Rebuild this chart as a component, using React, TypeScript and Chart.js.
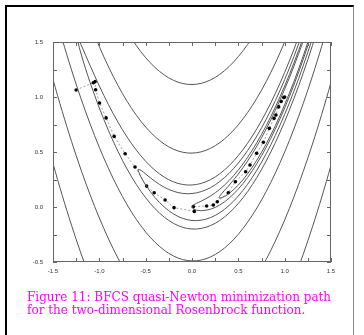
import React, { useEffect, useRef } from "react";
import { Chart, registerables } from "chart.js";
Chart.register(...registerables);

type P = [number, number];

// Contour lines of the Rosenbrock function (level in name)
const level350Left: P[] = [[-1.6,0.7073],[-1.5,0.396],[-1.4,0.1046],[-1.3,-0.1666],[-1.2,-0.4179],[-1.1,-0.649]];
const level350Right: P[] = [[1.1,-0.6608],[1.2,-0.4307],[1.3,-0.1806],[1.4,0.0896],[1.5,0.3798],[1.6,0.6901]];
const level125Upper: P[] = [[-0.7,1.595],[-0.6,1.4665],[-0.5,1.3579],[-0.4,1.2692],[-0.3,1.2005],[-0.2,1.1516],[-0.1,1.1226],[0,1.1136],[0.1,1.1244],[0.2,1.1552],[0.3,1.2058],[0.4,1.2764],[0.5,1.3669],[0.6,1.4773],[0.7,1.6076]];
const level125Left: P[] = [[-1.6,1.4726],[-1.5,1.1603],[-1.4,0.868],[-1.3,0.5959],[-1.2,0.3438],[-1.1,0.1119],[-1.0,-0.1],[-0.9,-0.2918],[-0.8,-0.4635],[-0.7,-0.615]];
const level125Right: P[] = [[0.7,-0.6276],[0.8,-0.4779],[0.9,-0.308],[1.0,-0.118],[1.1,0.092],[1.2,0.3221],[1.3,0.5724],[1.4,0.8427],[1.5,1.1331],[1.6,1.4436]];
const level25Upper: P[] = [[-1.1,1.6638],[-1.0,1.4583],[-0.9,1.2725],[-0.8,1.1065],[-0.7,0.9602],[-0.6,0.8337],[-0.5,0.727],[-0.4,0.64],[-0.3,0.5728],[-0.2,0.5254],[-0.1,0.4978],[0,0.4899],[0.1,0.5018],[0.2,0.5336],[0.3,0.5851],[0.4,0.6564],[0.5,0.7475],[0.6,0.8584],[0.7,0.9891],[0.8,1.1396],[0.9,1.3099],[1.0,1.5],[1.1,1.7099]];
const level25Lower: P[] = [[-1.4,1.5214],[-1.3,1.246],[-1.2,0.991],[-1.1,0.7562],[-1.0,0.5417],[-0.9,0.3475],[-0.8,0.1735],[-0.7,0.0198],[-0.6,-0.1137],[-0.5,-0.227],[-0.4,-0.32],[-0.3,-0.3928],[-0.2,-0.4454],[-0.1,-0.4778],[0,-0.4899],[0.1,-0.4818],[0.2,-0.4536],[0.3,-0.4051],[0.4,-0.3364],[0.5,-0.2475],[0.6,-0.1384],[0.7,-0.0091],[0.8,0.1404],[0.9,0.3101],[1.0,0.5],[1.1,0.7101],[1.2,0.9404],[1.3,1.1909],[1.4,1.4616],[1.5,1.7525]];
const level5: P[] = [[1.2,1.6627],[1.1,1.4334],[1.0,1.2236],[0.9,1.0334],[0.8,0.8627],[0.7,0.7116],[0.6,0.58],[0.5,0.4679],[0.4,0.3754],[0.3,0.3024],[0.2,0.2488],[0.1,0.2147],[0,0.2],[-0.1,0.2047],[-0.2,0.2287],[-0.3,0.2719],[-0.4,0.3344],[-0.5,0.4158],[-0.6,0.5162],[-0.7,0.6353],[-0.8,0.7727],[-0.9,0.9279],[-1.0,1.1],[-1.1,1.2868],[-1.15,1.3839],[-1.2,1.48],[-1.23,1.5294],[-1.236,1.5277],[-1.23,1.4964],[-1.2,1.4],[-1.15,1.2611],[-1.1,1.1332],[-1.0,0.9],[-0.9,0.6921],[-0.8,0.5073],[-0.7,0.3447],[-0.6,0.2038],[-0.5,0.0842],[-0.4,-0.0144],[-0.3,-0.0919],[-0.2,-0.1487],[-0.1,-0.1847],[0,-0.2],[0.1,-0.1947],[0.2,-0.1688],[0.3,-0.1224],[0.4,-0.0554],[0.5,0.0321],[0.6,0.14],[0.7,0.2684],[0.8,0.4173],[0.9,0.5866],[1.0,0.7764],[1.1,0.9866],[1.2,1.2173],[1.3,1.4684],[1.4,1.74]];
const level2p5: P[] = [[1.2,1.5968],[1.1,1.3678],[1.0,1.1581],[0.9,0.9678],[0.8,0.7968],[0.7,0.6452],[0.6,0.513],[0.5,0.4],[0.4,0.3063],[0.3,0.2318],[0.2,0.1764],[0.1,0.14],[0,0.1225],[-0.1,0.1236],[-0.2,0.143],[-0.3,0.18],[-0.4,0.2335],[-0.5,0.3],[-0.55,0.3337],[-0.58,0.3424],[-0.5811,0.3377],[-0.58,0.3304],[-0.55,0.2713],[-0.5,0.2],[-0.4,0.0865],[-0.3,0],[-0.2,-0.063],[-0.1,-0.1036],[0,-0.1225],[0.1,-0.12],[0.2,-0.0964],[0.3,-0.0518],[0.4,0.0137],[0.5,0.1],[0.6,0.207],[0.7,0.3348],[0.8,0.4832],[0.9,0.6522],[1.0,0.8419],[1.1,1.0522],[1.2,1.2832],[1.3,1.5348]];
const level1: P[] = [[1.2,1.538],[1.1,1.3095],[1.0,1.1],[0.9,0.9095],[0.8,0.738],[0.7,0.5854],[0.6,0.4517],[0.5,0.3366],[0.4,0.24],[0.3,0.1614],[0.2,0.1],[0.1,0.0536],[0.05,0.0337],[0.02,0.0203],[0,0],[0.02,-0.0195],[0.05,-0.0287],[0.1,-0.0336],[0.2,-0.02],[0.3,0.0186],[0.4,0.08],[0.5,0.1634],[0.6,0.2684],[0.7,0.3946],[0.8,0.542],[0.9,0.7105],[1.0,0.9],[1.1,1.1105],[1.2,1.342],[1.3,1.5946]];
const level0p5: P[] = [[1.2,1.5078],[1.1,1.28],[1.0,1.0707],[0.9,0.88],[0.8,0.7078],[0.7,0.554],[0.6,0.4183],[0.5,0.3],[0.4,0.1974],[0.35,0.1503],[0.3,0.1],[0.2929,0.0858],[0.3,0.08],[0.35,0.0947],[0.4,0.1226],[0.5,0.2],[0.6,0.3017],[0.7,0.426],[0.8,0.5722],[0.9,0.74],[1.0,0.9293],[1.1,1.14],[1.2,1.3722],[1.3,1.626]];

// BFGS minimization path
const pathX = [-1.25,-1.065,-1.045,-1.04,-0.998,-0.927,-0.84,-0.722,-0.615,-0.49,-0.408,-0.29,-0.194,0.025,0.014,0.158,0.23,0.273,0.392,0.468,0.579,0.626,0.698,0.77,0.834,0.885,0.906,0.935,0.962,0.99,1.0];
const pathY = [1.064,1.13,1.14,1.066,0.945,0.81,0.642,0.484,0.363,0.19,0.13,0.064,-0.006,-0.04,0.003,0.009,0.018,0.048,0.13,0.23,0.321,0.382,0.488,0.588,0.715,0.806,0.836,0.91,0.96,0.995,1.0];

const xTickLabels = ["-1.5", "-1.0", "-0.5", "0.0", "0.5", "1.0", "1.5"];
const yTickLabels = ["-0.5", "0.0", "0.5", "1.0", "1.5"];

const captionLines = [
  "Figure 11: BFCS quasi-Newton minimization path",
  "for the two-dimensional Rosenbrock function.",
];

const contours: P[][] = [
  level350Left, level350Right, level125Upper, level125Left, level125Right,
  level25Upper, level25Lower, level5, level2p5, level1, level0p5,
];

const framePlugin = {
  id: "frameTicks",
  afterDatasetsDraw(chart: any) {
    const { ctx, chartArea: a, scales } = chart;
    const xs = scales.x;
    const ys = scales.y;
    ctx.save();
    ctx.strokeStyle = "#666";
    ctx.lineWidth = 1;
    ctx.strokeRect(a.left + 0.5, a.top + 0.5, a.right - a.left - 1, a.bottom - a.top - 1);
    ctx.beginPath();
    xs.ticks.forEach((t: any) => {
      const px = Math.round(xs.getPixelForValue(t.value)) + 0.5;
      ctx.moveTo(px, a.bottom);
      ctx.lineTo(px, a.bottom - 4);
      ctx.moveTo(px, a.top);
      ctx.lineTo(px, a.top + 4);
    });
    ys.ticks.forEach((t: any) => {
      const py = Math.round(ys.getPixelForValue(t.value)) + 0.5;
      ctx.moveTo(a.left, py);
      ctx.lineTo(a.left + 4, py);
      ctx.moveTo(a.right, py);
      ctx.lineTo(a.right - 4, py);
    });
    ctx.stroke();
    ctx.restore();
  },
};

export default function App() {
  const ref = useRef<HTMLCanvasElement>(null);
  useEffect(() => {
    const datasets: any[] = contours.map((c) => ({
      data: c.map(([x, y]) => ({ x, y })),
      showLine: true,
      borderColor: "#555",
      borderWidth: 1,
      pointRadius: 0,
      tension: 0.35,
      fill: false,
    }));
    datasets.push({
      data: pathX.map((x, i) => ({ x, y: pathY[i] })),
      showLine: true,
      borderColor: "#888",
      borderWidth: 0.8,
      borderDash: [2, 2],
      pointRadius: 1.8,
      pointBackgroundColor: "#000",
      pointBorderColor: "#000",
      pointBorderWidth: 0,
      tension: 0,
      fill: false,
    });
    const tickFont = { family: "Liberation Sans", size: 6 };
    const chart = new Chart(ref.current as HTMLCanvasElement, {
      type: "scatter",
      data: { datasets },
      options: {
        animation: false,
        responsive: false,
        maintainAspectRatio: false,
        layout: { padding: { left: 0, top: 42, right: 33, bottom: 0 } },
        plugins: { legend: { display: false }, tooltip: { enabled: false } },
        scales: {
          x: {
            type: "linear",
            min: -1.5,
            max: 1.5,
            afterFit: (s: any) => { s.height = 73; },
            grid: { display: false, drawTicks: false },
            border: { display: false },
            ticks: {
              stepSize: 0.25,
              autoSkip: false,
              maxRotation: 0,
              padding: 6,
              color: "#333",
              font: tickFont,
              callback: (_v: any, i: number) => (i % 2 === 0 ? xTickLabels[i / 2] : ""),
            },
          },
          y: {
            type: "linear",
            min: -0.5,
            max: 1.5,
            afterFit: (s: any) => { s.width = 53; },
            grid: { display: false, drawTicks: false },
            border: { display: false },
            ticks: {
              stepSize: 0.25,
              autoSkip: false,
              padding: 10,
              color: "#333",
              font: tickFont,
              callback: (_v: any, i: number) => (i % 2 === 0 ? yTickLabels[i / 2] : ""),
            },
          },
        },
      } as any,
      plugins: [framePlugin],
    });
    return () => chart.destroy();
  }, []);

  return (
    <div style={{ position: "absolute", left: 0, top: 0, width: 364, height: 335, background: "#fff", overflow: "hidden" }}>
      <div
        style={{
          position: "absolute", left: 5, top: 5, width: 346, height: 340,
          borderLeft: "2px solid #000", borderTop: "2px solid #000", borderRight: "1px solid #888",
        }}
      />
      <canvas ref={ref} width={364} height={335} style={{ position: "absolute", left: 0, top: 0 }} />
      <div
        style={{
          position: "absolute", left: 27, top: 291, color: "#ff00ff",
          fontFamily: "'DejaVu Serif', serif", fontSize: 12, lineHeight: "13px", whiteSpace: "nowrap",
        }}
      >
        {captionLines.map((l, i) => (<div key={i}>{l}</div>))}
      </div>
    </div>
  );
}
